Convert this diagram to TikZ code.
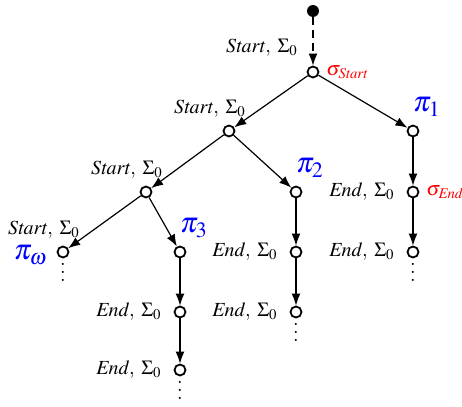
\documentclass[tikz,border=0pt]{standalone}
\usepackage{amsmath}
\usepackage{mathptmx}
\usepackage{tikz}
\usetikzlibrary{arrows.meta,positioning}

\begin{document}
\begin{tikzpicture}[x=0.5pt,y=-0.5pt,
    state/.style={circle,draw,fill=white,line width=0.9pt,inner sep=0pt,minimum size=5.5pt},
    init/.style={circle,fill=black,inner sep=0pt,minimum size=6pt},
    arr/.style={-{Latex[length=6pt,width=4.5pt]},line width=0.6pt},
    trace/.style={text=blue,font=\Large},
    sig/.style={text=red},
    more/.style={inner sep=0pt,yshift=3.5pt}]
        \useasboundingbox (0,0) rectangle (462,407);
        % initial point and root
        \node[init] (s) at (313,11) {};
        \node[state,label={[xshift=-25.5pt,yshift=1pt]above:$\mathit{Start},\;\Sigma_0$},
              label={[sig,label distance=0pt]right:$\sigma_{\mathit{Start}}$}] (r) at (313,72) {};
        % left spine
        \node[state,label={[xshift=-9.5pt]above:$\mathit{Start},\;\Sigma_0$}] (n1) at (229,131) {};
        \node[state,label={[xshift=-9.5pt]above:$\mathit{Start},\;\Sigma_0$}] (n2) at (146,192) {};
        \node[state,label={[xshift=-9.5pt]above:$\mathit{Start},\;\Sigma_0$},
              label={[trace,label distance=1pt,yshift=-1.5pt]left:$\pi_\omega$},
              label={[more]below:$\vdots$}] (nw) at (63,252) {};
        % path pi_1
        \node[state,label={[trace,xshift=7pt,label distance=0.5pt]above:$\pi_1$}] (p1) at (413,131) {};
        \node[state,label={[label distance=2.5pt]left:$\mathit{End},\;\Sigma_0$},
              label={[sig,label distance=0pt]right:$\sigma_{\mathit{End}}$}] (e1) at (413,192) {};
        \node[state,label={[label distance=2.5pt]left:$\mathit{End},\;\Sigma_0$},
              label={[more]below:$\vdots$}] (e2) at (413,252) {};
        % path pi_2
        \node[state,label={[trace,xshift=7pt,label distance=0.5pt]above:$\pi_2$}] (p2) at (296,192) {};
        \node[state,label={[label distance=2.5pt]left:$\mathit{End},\;\Sigma_0$}] (q1) at (296,252) {};
        \node[state,label={[label distance=2.5pt]left:$\mathit{End},\;\Sigma_0$},
              label={[more]below:$\vdots$}] (q2) at (296,312) {};
        % path pi_3
        \node[state,label={[trace,xshift=7pt,label distance=0.5pt]above:$\pi_3$}] (p3) at (180,252) {};
        \node[state,label={[label distance=2.5pt]left:$\mathit{End},\;\Sigma_0$}] (t1) at (180,312) {};
        \node[state,label={[label distance=2.5pt]left:$\mathit{End},\;\Sigma_0$},
              label={[more]below:$\vdots$}] (t2) at (180,370) {};
        % transitions
        \draw[arr,dash pattern=on 4pt off 2.5pt] (s) -- (r);
        \draw[arr] (r) -- (n1);
        \draw[arr] (r) -- (p1);
        \draw[arr] (n1) -- (n2);
        \draw[arr] (n1) -- (p2);
        \draw[arr] (n2) -- (nw);
        \draw[arr] (n2) -- (p3);
        \draw[arr] (p1) -- (e1);
        \draw[arr] (e1) -- (e2);
        \draw[arr] (p2) -- (q1);
        \draw[arr] (q1) -- (q2);
        \draw[arr] (p3) -- (t1);
        \draw[arr] (t1) -- (t2);
    \end{tikzpicture}
\end{document}
